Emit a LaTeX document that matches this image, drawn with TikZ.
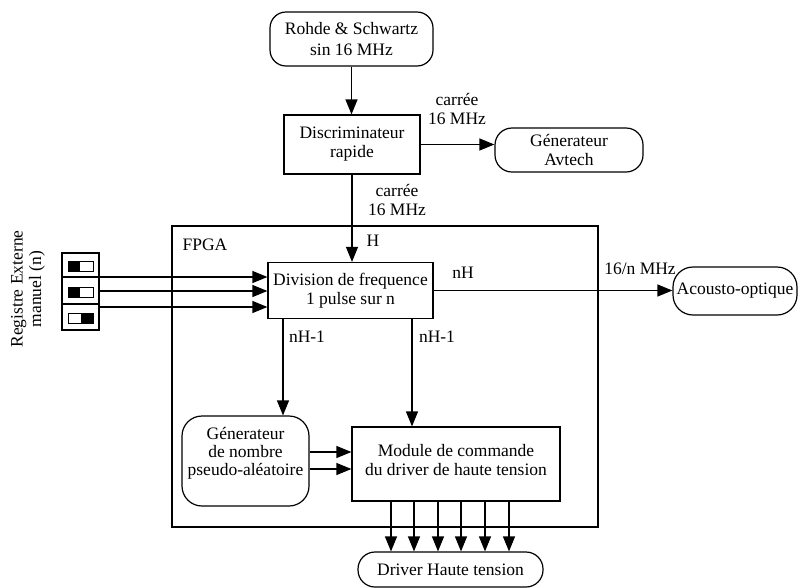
\documentclass[tikz,border=0pt]{standalone}
\usepackage{fontspec}
\setmainfont{Liberation Serif}
\usetikzlibrary{arrows.meta}
\begin{document}
\begin{tikzpicture}[x=1pt,y=-1pt,
  every node/.style={font=\fontsize{17.5}{19}\selectfont, inner sep=0pt},
  box/.style={draw, line width=1.2pt, align=center},
  rbox/.style={box, rounded corners=17pt},
  lbl/.style={align=center},
  ln/.style={line width=1.2pt},
  arr/.style={line width=1.2pt, -{Triangle[length=15pt,width=12pt]}},
  swbox/.style={draw, line width=1pt},
]
\useasboundingbox (0,0) rectangle (798,587);

% FPGA frame
\node[box, minimum width=426pt, minimum height=301pt] (fpga) at (385,376.5) {};
\node (fpgal) at (205,245) {FPGA};

% Main nodes
\node[rbox, rounded corners=16pt, minimum width=163pt, minimum height=54pt, font=\fontsize{17.5}{21.5}\selectfont] (rohde) at (351.5,39) {Rohde \& Schwartz\\sin 16 MHz};
\node[box, minimum width=136pt, minimum height=59pt] (discrim) at (352,144.5) {Discriminateur\\rapide};
\node[rbox, minimum width=148pt, minimum height=44pt] (avtech) at (569,150) {Génerateur\\Avtech};
\node[box, minimum width=165pt, minimum height=56pt] (div) at (350.5,290.5) {Division de frequence\\1 pulse sur n};
\node[rbox, rounded corners=20pt, minimum width=124pt, minimum height=48pt] (acousto) at (735,291) {Acousto-optique};
\node[rbox, rounded corners=20pt, minimum width=127pt, minimum height=90pt] (gen) at (245.5,461) {};
\node[lbl, font=\fontsize{17.5}{18}\selectfont] (gentxt) at (245.5,453) {Génerateur\\de nombre\\pseudo-aléatoire};
\node[box, minimum width=208pt, minimum height=74pt] (mod) at (456,464) {};
\node[lbl] (modtxt) at (456,460) {Module de commande\\du driver de haute tension};
\node[rbox, minimum width=185pt, minimum height=35pt] (drv) at (450.5,569.5) {Driver Haute tension};

% Switch register
\node[box, minimum width=37pt, minimum height=77pt] (sw) at (80.5,291.5) {};
\draw[ln] (sw.west |- 0,277) -- (sw.east |- 0,277);
\draw[ln] (sw.west |- 0,304) -- (sw.east |- 0,304);
\fill (68,261) rectangle (80,271);
\draw[swbox] (68,261) rectangle (93,271);
\fill (68,287) rectangle (80,297);
\draw[swbox] (68,287) rectangle (93,297);
\fill (81,313) rectangle (93,323);
\draw[swbox] (68,313) rectangle (93,323);
\node[lbl, rotate=90, font=\fontsize{17.5}{18.5}\selectfont] (reg) at (28,289) {Registre Externe\\manuel (n)};

% Labels
\node[lbl] (c1) at (457,109) {carrée\\16 MHz};
\node[lbl] (c2) at (397,200) {carrée\\16 MHz};
\node (h) at (373,241) {H};
\node (nh) at (463,273) {nH};
\node (f16) at (640,269) {16/n MHz};
\node (nh1a) at (307,337) {nH-1};
\node (nh1b) at (437,337) {nH-1};

% Connectors
\draw[arr] (rohde.south) -- (rohde.south |- discrim.north);
\draw[arr] (discrim.east) -- (avtech.west |- discrim.east);
\draw[arr] (discrim.south) -- (discrim.south |- div.north);
\foreach \yy in {277,291,307}
  \draw[arr] (sw.east |- 0,\yy) -- (div.west |- 0,\yy);
\draw[arr] (div.east) -- (acousto.west |- div.east);
\draw[arr] (div.south -| 283,0) -- (gen.north -| 283,0);
\draw[arr] (div.south -| 412,0) -- (mod.north -| 412,0);
\foreach \yy in {452,469}
  \draw[arr] (gen.east |- 0,\yy) -- (mod.west |- 0,\yy);
\foreach \xx in {391,414,438,461,485,509}
  \draw[arr] (mod.south -| \xx,0) -- (drv.north -| \xx,0);
\end{tikzpicture}
\end{document}
